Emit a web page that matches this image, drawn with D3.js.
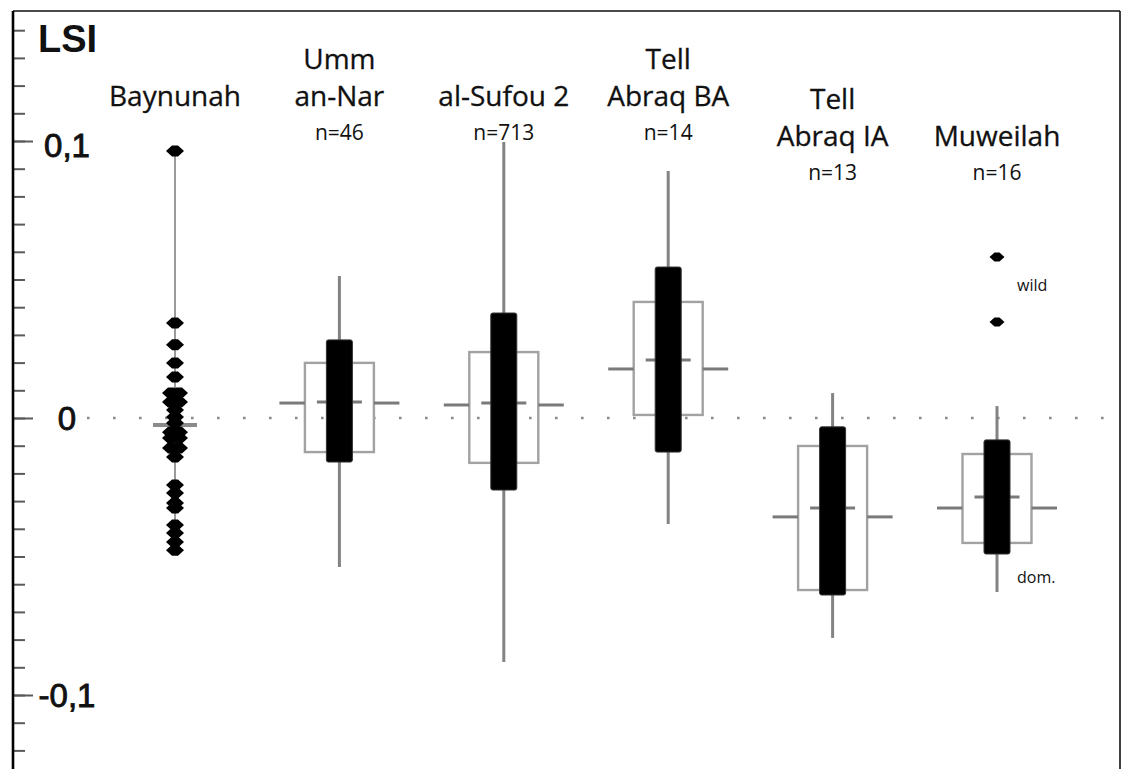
<!DOCTYPE html>
<html><head><meta charset="utf-8">
<script src="https://cdn.jsdelivr.net/npm/d3@7/dist/d3.min.js"></script>
<style>
html,body{margin:0;padding:0;background:#fff;}
svg{display:block;}
</style></head>
<body>
<svg id="chart" width="1123" height="769"></svg>
<script>
// ---------- data ----------
const categories = ["Baynunah","Umm an-Nar","al-Sufou 2","Tell Abraq BA","Tell Abraq IA","Muweilah"];
const labelLines = [["Baynunah"],["Umm","an-Nar"],["al-Sufou 2"],["Tell","Abraq BA"],["Tell","Abraq IA"],["Muweilah"]];
const sampleSizes = ["", "n=46", "n=713", "n=14", "n=13", "n=16"];
// box-plot series (Baynunah drawn as individual points instead)
const whiskerLow  = [-0.0477, -0.0538, -0.0881, -0.0383, -0.0794, -0.0628];
const whiskerHigh = [ 0.0964,  0.0513,  0.0996,  0.0892,  0.0090,  0.0043];
const blackLow    = [null, -0.0159, -0.0260, -0.0123, -0.0639, -0.0491];
const blackHigh   = [null,  0.0282,  0.0379,  0.0545, -0.0032, -0.0079];
const whiteLow    = [null, -0.0123, -0.0162,  0.0011, -0.0621, -0.0451];
const whiteHigh   = [null,  0.0199,  0.0238,  0.0419, -0.0101, -0.0130];
const outerMid    = [-0.0025, 0.0054, 0.0047, 0.0177, -0.0357, -0.0325];
const innerMid    = [null, 0.0058, 0.0054, 0.0209, -0.0325, -0.0285];
// individual measurements
const baynunahPoints = [0.0964, 0.0343, 0.0264, 0.0199, 0.0148, 0.0090, 0.0090, 0.0058, 0.0058, 0.0029,
  0.0004, -0.0018, -0.0051, -0.0051, -0.0072, -0.0072, -0.0108, -0.0108, -0.0141, -0.0242, -0.0271,
  -0.0307, -0.0325, -0.0386, -0.0415, -0.0448, -0.0477];
const muweilahOutliers = [0.0581, 0.0347];
const yMajorTicks = [0.1, 0, -0.1];
const yTickLabels = ["0,1", "0", "-0,1"];
const yMinorTicks = d3.range(-12, 15).map(d => d / 100);
const annotations = [{cat: "Muweilah", value: 0.046, text: "wild"}, {cat: "Muweilah", value: -0.0595, text: "dom."}];

// ---------- layout ----------
const svg = d3.select("#chart");
const axisX = 13, frameTop = 11, frameRight = 1120;
const y = d3.scaleLinear().domain([-0.1, 0.1]).range([695, 141]);
const x = d3.scalePoint().domain(categories).range([175, 997]);

// frame
svg.append("line").attr("x1", axisX).attr("x2", frameRight).attr("y1", frameTop).attr("y2", frameTop)
  .attr("stroke", "#111").attr("stroke-width", 1.6);
svg.append("line").attr("x1", frameRight).attr("x2", frameRight).attr("y1", frameTop).attr("y2", 769)
  .attr("stroke", "#111").attr("stroke-width", 1.6);

// zero dotted line
svg.append("line").attr("x1", 87).attr("x2", frameRight).attr("y1", y(0)).attr("y2", y(0))
  .attr("stroke", "#8a8a8a").attr("stroke-width", 2.6).attr("stroke-dasharray", "2.6,23.4");

// axis (ticks point inward)
const minorAxis = d3.axisRight(y).tickValues(yMinorTicks).tickSize(12).tickFormat("");
const majorAxis = d3.axisRight(y).tickValues(yMajorTicks).tickSize(20).tickFormat("");
[minorAxis, majorAxis].forEach(ax => {
  const g = svg.append("g").attr("transform", `translate(${axisX},0)`).call(ax);
  g.select(".domain").remove();
  g.selectAll(".tick line").attr("stroke", "#5a5a5a").attr("stroke-width", 2);
});
svg.append("line").attr("x1", axisX).attr("x2", axisX).attr("y1", frameTop).attr("y2", 769)
  .attr("stroke", "#000").attr("stroke-width", 2.6);

svg.append("g").selectAll("text").data(yMajorTicks).join("text")
  .attr("x", 67).attr("y", d => y(d) + (d > 0 ? 4 : 0)).attr("dy", "0.36em")
  .attr("text-anchor", "middle")
  .attr("font-family", "Liberation Sans, Arial, sans-serif").attr("font-size", 33)
  .attr("fill", "#111").attr("stroke", "#111").attr("stroke-width", 0.9)
  .text((d, i) => yTickLabels[i]);

svg.append("text").attr("x", 38).attr("y", 52)
  .attr("font-family", "Liberation Sans, Arial, sans-serif").attr("font-size", 38).attr("font-weight", "bold")
  .attr("fill", "#111").text("LSI");

// category labels
const lowered = new Set(["Tell Abraq IA", "Muweilah"]);
categories.forEach((c, i) => {
  const base = lowered.has(c) ? 180 : 140;
  const cx = x(c);
  if (sampleSizes[i]) {
    svg.append("text").attr("x", cx).attr("y", base).attr("text-anchor", "middle")
      .attr("font-family", "Open Sans, sans-serif").attr("font-size", 21).attr("fill", "#111")
      .text(sampleSizes[i]);
  }
  const lines = labelLines[i];
  lines.forEach((t, j) => {
    const yy = base - 34 - (lines.length - 1 - j) * 37;
    svg.append("text").attr("x", cx).attr("y", yy).attr("text-anchor", "middle")
      .attr("font-family", "Open Sans, sans-serif").attr("font-size", 28).attr("fill", "#111")
      .attr("stroke", "#111").attr("stroke-width", 0.3)
      .text(t);
  });
});

// boxes
const whiteW = 69, blackW = 26, outerExt = 60, innerExt = 22.5;
const grey = "#838383";
categories.forEach((c, i) => {
  const cx = x(c);
  const g = svg.append("g");
  g.append("line").attr("x1", cx).attr("x2", cx)
    .attr("y1", y(whiskerHigh[i])).attr("y2", y(whiskerLow[i]))
    .attr("stroke", i === 0 ? "#9a9a9a" : grey).attr("stroke-width", i === 0 ? 2 : 3);
  if (whiteLow[i] !== null) {
    g.append("rect").attr("x", cx - whiteW / 2).attr("width", whiteW)
      .attr("y", y(whiteHigh[i])).attr("height", y(whiteLow[i]) - y(whiteHigh[i]))
      .attr("fill", "none").attr("stroke", "#a2a2a2").attr("stroke-width", 2.4);
    g.append("line").attr("x1", cx - outerExt).attr("x2", cx - whiteW / 2)
      .attr("y1", y(outerMid[i])).attr("y2", y(outerMid[i]))
      .attr("stroke", "#7a7a7a").attr("stroke-width", 3);
    g.append("line").attr("x1", cx + whiteW / 2).attr("x2", cx + outerExt)
      .attr("y1", y(outerMid[i])).attr("y2", y(outerMid[i]))
      .attr("stroke", "#7a7a7a").attr("stroke-width", 3);
    g.append("line").attr("x1", cx - innerExt).attr("x2", cx + innerExt)
      .attr("y1", y(innerMid[i])).attr("y2", y(innerMid[i]))
      .attr("stroke", "#7a7a7a").attr("stroke-width", 3);
    g.append("rect").attr("x", cx - blackW / 2).attr("width", blackW)
      .attr("y", y(blackHigh[i])).attr("height", y(blackLow[i]) - y(blackHigh[i]))
      .attr("rx", 2).attr("fill", "#000").attr("stroke", "#333").attr("stroke-width", 1);
  } else {
    g.append("line").attr("x1", cx - 22).attr("x2", cx + 22)
      .attr("y1", y(outerMid[i])).attr("y2", y(outerMid[i]))
      .attr("stroke", "#8a8a8a").attr("stroke-width", 4);
  }
});

// point markers (diamonds)
const marker = "M-9,0 L-3,-5.5 L3,-5.5 L9,0 L3,5.5 L-3,5.5 Z";
const seen = new Map();
const bx = x("Baynunah");
svg.append("g").selectAll("path").data(baynunahPoints).join("path")
  .attr("d", marker)
  .attr("transform", d => {
    const k = seen.get(d) || 0; seen.set(d, k + 1);
    const dx = k === 0 ? (baynunahPoints.filter(v => v === d).length > 1 ? -4 : 0) : 4;
    return `translate(${bx + dx},${y(d)})`;
  })
  .attr("fill", "#000");
svg.append("g").selectAll("path").data(muweilahOutliers).join("path")
  .attr("d", "M-7.5,0 L-2.5,-4.5 L2.5,-4.5 L7.5,0 L2.5,4.5 L-2.5,4.5 Z")
  .attr("transform", d => `translate(${x("Muweilah")},${y(d)})`)
  .attr("fill", "#000");

// annotations
svg.append("g").selectAll("text").data(annotations).join("text")
  .attr("x", d => x(d.cat) + 20).attr("y", d => y(d.value))
  .attr("font-family", "Open Sans, sans-serif").attr("font-size", 16).attr("fill", "#111")
  .text(d => d.text);
</script>
</body></html>
